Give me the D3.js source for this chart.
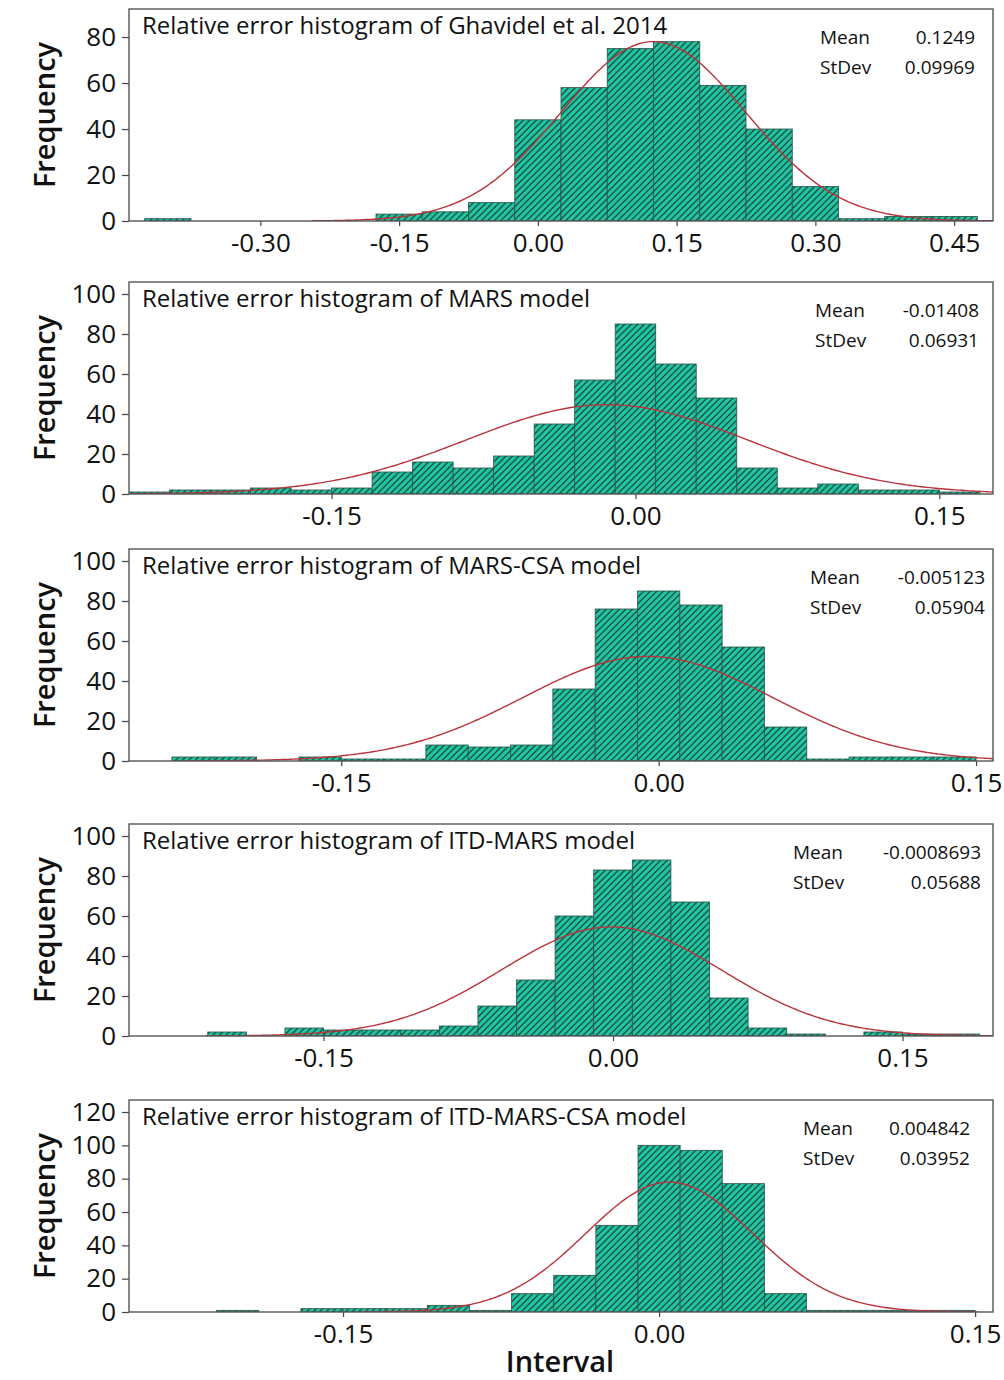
<!DOCTYPE html>
<html>
<head>
<meta charset="utf-8">
<script src="https://cdn.jsdelivr.net/npm/d3@7"></script>
<style>
  body { margin: 0; background: #fff; }
  svg text { font-family: "Open Sans", "Noto Sans", sans-serif; fill: #111; }
</style>
</head>
<body>
<svg id="chart" width="1004" height="1380"></svg>
<script>
/* Relative error histograms – 5 pannelli impilati */

const TITLES = [
  "Relative error histogram of Ghavidel et al. 2014",
  "Relative error histogram of MARS model",
  "Relative error histogram of MARS-CSA model",
  "Relative error histogram of ITD-MARS model",
  "Relative error histogram of ITD-MARS-CSA model",
];
const MEANS = [0.1249, -0.01408, -0.005123, -0.0008693, 0.004842];
const MEAN_LABELS = ["0.1249", "-0.01408", "-0.005123", "-0.0008693", "0.004842"];
const STDEVS = [0.09969, 0.06931, 0.05904, 0.05688, 0.03952];
const STDEV_LABELS = ["0.09969", "0.06931", "0.05904", "0.05688", "0.03952"];
const BIN_WIDTHS = [0.05, 0.02, 0.02, 0.02, 0.02];

// centri dei bin + conteggi
const bins1 = [-0.40, -0.35, -0.30, -0.25, -0.20, -0.15, -0.10, -0.05, 0.00, 0.05, 0.10, 0.15, 0.20, 0.25, 0.30, 0.35, 0.40, 0.45];
const counts1 = [1, 0, 0, 0, 0, 3, 4, 8, 44, 58, 75, 78, 59, 40, 15, 1, 2, 2];

const bins2 = [-0.24, -0.22, -0.20, -0.18, -0.16, -0.14, -0.12, -0.10, -0.08, -0.06, -0.04, -0.02, 0.00, 0.02, 0.04, 0.06, 0.08, 0.10, 0.12, 0.14, 0.16];
const counts2 = [1, 2, 2, 3, 2, 3, 11, 16, 13, 19, 35, 57, 85, 65, 48, 13, 3, 5, 2, 2, 1];

const bins3 = [-0.22, -0.20, -0.18, -0.16, -0.14, -0.12, -0.10, -0.08, -0.06, -0.04, -0.02, 0.00, 0.02, 0.04, 0.06, 0.08, 0.10, 0.12, 0.14];
const counts3 = [2, 2, 0, 2, 1, 1, 8, 7, 8, 36, 76, 85, 78, 57, 17, 1, 2, 2, 2];

const bins4 = [-0.20, -0.18, -0.16, -0.14, -0.12, -0.10, -0.08, -0.06, -0.04, -0.02, 0.00, 0.02, 0.04, 0.06, 0.08, 0.10, 0.12, 0.14, 0.16, 0.18];
const counts4 = [2, 0, 4, 3, 3, 3, 5, 15, 28, 60, 83, 88, 67, 19, 4, 1, 0, 2, 1, 1];

const bins5 = [-0.20, -0.18, -0.16, -0.14, -0.12, -0.10, -0.08, -0.06, -0.04, -0.02, 0.00, 0.02, 0.04, 0.06, 0.08, 0.10, 0.12, 0.14];
const counts5 = [1, 0, 2, 2, 2, 4, 1, 11, 22, 52, 100, 97, 77, 11, 1, 1, 1, 1];

const X_TICKS = [
  [-0.30, -0.15, 0.00, 0.15, 0.30, 0.45],
  [-0.15, 0.00, 0.15],
  [-0.15, 0.00, 0.15],
  [-0.15, 0.00, 0.15],
  [-0.15, 0.00, 0.15],
];
const Y_TICKS = [
  [0, 20, 40, 60, 80],
  [0, 20, 40, 60, 80, 100],
  [0, 20, 40, 60, 80, 100],
  [0, 20, 40, 60, 80, 100],
  [0, 20, 40, 60, 80, 100, 120],
];
const X_DOMAINS = [[-0.442, 0.492], [-0.25, 0.1765], [-0.2503, 0.158], [-0.2508, 0.1969], [-0.2516, 0.1585]];
const Y_MAX = [92.2, 106, 106, 106, 127.2];

/* ---------- layout ---------- */
const FRAME_LEFT = 129, FRAME_RIGHT = 993;
const FRAME_TOP = [9, 282, 549, 824, 1100];
const FRAME_BOTTOM = [221, 494, 761, 1036, 1312];
const MEAN_X = [820, 815, 810, 793, 803];
const VALUE_X = [975, 979, 985, 981, 970];

const BAR_FILL = "#22c6a2";
const HATCH_COLOR = "#10231f";
const CURVE_COLOR = "#b8343c";

const svg = d3.select("#chart");
svg.append("rect").attr("width", 1004).attr("height", 1380).attr("fill", "#fff");

const defs = svg.append("defs");
const pat = defs.append("pattern")
  .attr("id", "hatch")
  .attr("patternUnits", "userSpaceOnUse")
  .attr("width", 6.5)
  .attr("height", 6.5);
pat.append("rect").attr("width", 6.5).attr("height", 6.5).attr("fill", BAR_FILL);
pat.append("path")
  .attr("d", "M-1,1 l2,-2 M0,6.5 l6.5,-6.5 M5.5,7.5 l2,-2")
  .attr("stroke", HATCH_COLOR)
  .attr("stroke-width", 1.05);

const panels = [
  { bins: bins1, counts: counts1 },
  { bins: bins2, counts: counts2 },
  { bins: bins3, counts: counts3 },
  { bins: bins4, counts: counts4 },
  { bins: bins5, counts: counts5 },
];

const fmtX = v => d3.format(".2f")(v).replace("−", "-");

function normalPdf(x, m, s) {
  return Math.exp(-0.5 * ((x - m) / s) ** 2) / (s * Math.sqrt(2 * Math.PI));
}

panels.forEach((p, i) => {
  const top = FRAME_TOP[i], bottom = FRAME_BOTTOM[i];
  const x = d3.scaleLinear().domain(X_DOMAINS[i]).range([FRAME_LEFT, FRAME_RIGHT]);
  const y = d3.scaleLinear().domain([0, Y_MAX[i]]).range([bottom, top]);
  const w = BIN_WIDTHS[i];
  const g = svg.append("g");

  defs.append("clipPath").attr("id", "clip" + i)
    .append("rect")
    .attr("x", FRAME_LEFT).attr("y", top)
    .attr("width", FRAME_RIGHT - FRAME_LEFT).attr("height", bottom - top);

  const plot = g.append("g").attr("clip-path", `url(#clip${i})`);

  const data = p.bins.map((c, k) => ({ c, n: p.counts[k] })).filter(d => d.n > 0);
  plot.selectAll("rect.bar")
    .data(data)
    .join("rect")
    .attr("class", "bar")
    .attr("x", d => x(d.c - w / 2))
    .attr("width", d => x(d.c + w / 2) - x(d.c - w / 2))
    .attr("y", d => y(d.n))
    .attr("height", d => y(0) - y(d.n))
    .attr("fill", "url(#hatch)")
    .attr("stroke", "#2c5047")
    .attr("stroke-width", 0.8);

  // curva normale adattata
  const N = d3.sum(p.counts);
  const m = MEANS[i], s = STDEVS[i];
  const lo = Math.max(X_DOMAINS[i][0], m - 3.7 * s);
  const hi = Math.min(X_DOMAINS[i][1], m + 3.7 * s);
  const xs = d3.range(0, 301).map(k => lo + (hi - lo) * k / 300);
  plot.append("path")
    .datum(xs)
    .attr("fill", "none")
    .attr("stroke", CURVE_COLOR)
    .attr("stroke-width", 1.4)
    .attr("d", d3.line().x(v => x(v)).y(v => y(N * w * normalPdf(v, m, s))));

  // assi
  const ay = g.append("g")
    .attr("transform", `translate(${FRAME_LEFT},0)`)
    .call(d3.axisLeft(y).tickValues(Y_TICKS[i]).tickFormat(d3.format("d")).tickSize(7).tickPadding(6).tickSizeOuter(0));
  const ax = g.append("g")
    .attr("transform", `translate(0,${bottom})`)
    .call(d3.axisBottom(x).tickValues(X_TICKS[i]).tickFormat(fmtX).tickSize(5).tickPadding(8).tickSizeOuter(0));
  [ay, ax].forEach(a => {
    a.select(".domain").remove();
    a.selectAll(".tick line").attr("stroke", "#444").attr("stroke-width", 1.2);
    a.selectAll(".tick text").attr("font-size", 26).attr("fill", "#111").attr("font-family", null);
  });

  // cornice
  g.append("rect")
    .attr("x", FRAME_LEFT).attr("y", top)
    .attr("width", FRAME_RIGHT - FRAME_LEFT).attr("height", bottom - top)
    .attr("fill", "none").attr("stroke", "#555").attr("stroke-width", 1.4);

  // titolo
  g.append("text")
    .attr("x", FRAME_LEFT + 13).attr("y", top + 17)
    .attr("dy", "0.35em")
    .attr("font-size", 24)
    .text(TITLES[i]);

  // statistiche
  [["Mean", MEAN_LABELS[i], 28], ["StDev", STDEV_LABELS[i], 58]].forEach(([lab, val, off]) => {
    g.append("text").attr("x", MEAN_X[i]).attr("y", top + off).attr("dy", "0.35em")
      .attr("font-size", 19).text(lab);
    g.append("text").attr("x", VALUE_X[i]).attr("y", top + off).attr("dy", "0.35em")
      .attr("text-anchor", "end").attr("font-size", 19).text(val);
  });

  // etichetta asse y
  g.append("text")
    .attr("transform", `translate(45,${(top + bottom) / 2}) rotate(-90)`)
    .attr("text-anchor", "middle")
    .attr("dy", "0.35em")
    .attr("font-size", 29)
    .attr("font-weight", 600)
    .text("Frequency");
});

svg.append("text")
  .attr("x", 560).attr("y", 1362)
  .attr("dy", "0.35em")
  .attr("text-anchor", "middle")
  .attr("font-size", 29)
  .attr("font-weight", 600)
  .text("Interval");
</script>
</body>
</html>
